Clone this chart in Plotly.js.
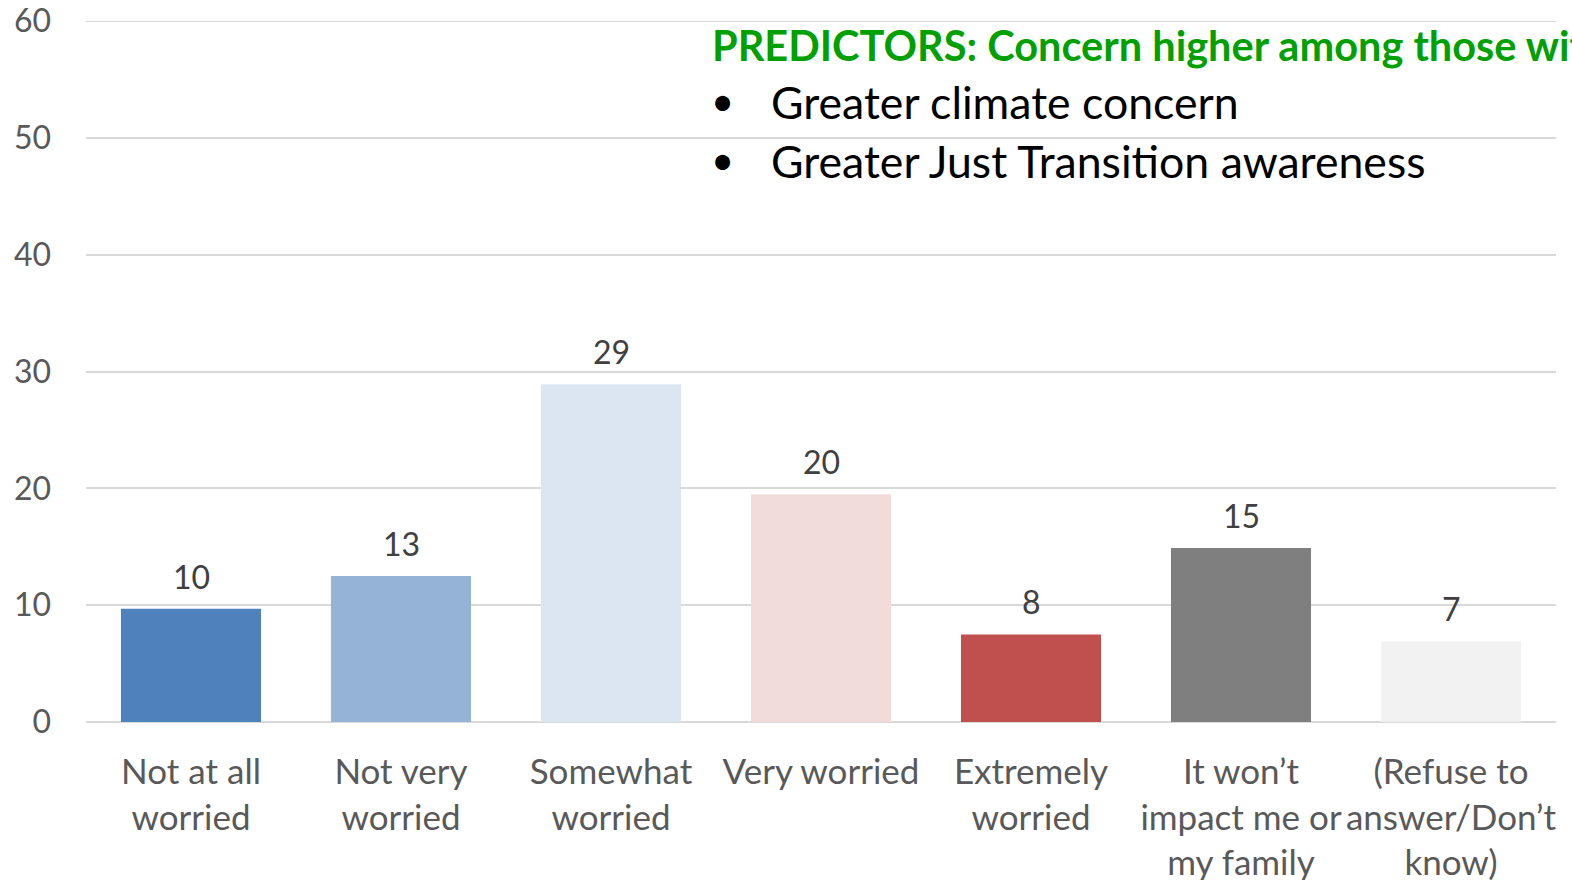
<!DOCTYPE html>
<html>
<head>
<meta charset="utf-8">
<script src="https://cdn.plot.ly/plotly-3.0.1.min.js"></script>
<style>html,body{margin:0;padding:0;background:#fff;}#chart{width:1572px;height:880px;}</style>
</head>
<body>
<div id="chart"></div>
<script>
const categories = ["Not at all<br>worried", "Not very<br>worried", "Somewhat<br>worried", "Very worried", "Extremely<br>worried", "It won’t<br>impact me or<br>my family", "(Refuse to<br>answer/Don’t<br>know)"];
const values = [9.7, 12.5, 28.9, 19.5, 7.5, 14.9, 6.9];
const barColors = ["#4F81BD", "#95B3D7", "#DCE6F2", "#F2DCDB", "#C0504D", "#7F7F7F", "#F2F2F2"];
const yTicks = [0, 10, 20, 30, 40, 50, 60];
const headline = "PREDICTORS: Concern higher among those with:";
const bullets = ["Greater climate concern", "Greater Just Transition awareness"];

const FONT = "Lato, 'Open Sans', sans-serif";

const trace = {
  type: "bar",
  x: categories,
  y: values,
  marker: {color: barColors},
  hoverinfo: "none"
};

const labelAnns = categories.map((c, i) => ({
  x: c, y: values[i], xref: "x", yref: "y",
  text: String(Math.round(values[i])),
  showarrow: false, yanchor: "bottom", yshift: 11,
  font: {family: FONT, size: 32, color: "#404040"}
}));

const textAnns = [
  {xref: "paper", yref: "paper", x: 0.4245, y: 1.0, xanchor: "left", yanchor: "middle", yshift: -24,
   text: "<b>" + headline + "</b>", showarrow: false,
   font: {family: FONT, size: 41.5, color: "#00A000"}},
  {xref: "paper", yref: "paper", x: 0.4235, y: 1.0, xanchor: "left", yanchor: "middle", yshift: -80,
   text: "•", showarrow: false, font: {family: FONT, size: 40, color: "#000000"}},
  {xref: "paper", yref: "paper", x: 0.4646, y: 1.0, xanchor: "left", yanchor: "middle", yshift: -80,
   text: bullets[0], showarrow: false, font: {family: FONT, size: 44.6, color: "#000000"}},
  {xref: "paper", yref: "paper", x: 0.4235, y: 1.0, xanchor: "left", yanchor: "middle", yshift: -139,
   text: "•", showarrow: false, font: {family: FONT, size: 40, color: "#000000"}},
  {xref: "paper", yref: "paper", x: 0.4646, y: 1.0, xanchor: "left", yanchor: "middle", yshift: -139,
   text: bullets[1], showarrow: false, font: {family: FONT, size: 44.6, color: "#000000"}}
];

const layout = {
  width: 1572, height: 880,
  margin: {l: 86, r: 16, t: 21, b: 158},
  paper_bgcolor: "#ffffff", plot_bgcolor: "#ffffff",
  showlegend: false,
  bargap: 0.333,
  font: {family: FONT},
  xaxis: {
    type: "category",
    tickfont: {family: FONT, size: 35, color: "#595959"},
    ticks: "", showline: false, showgrid: false, zeroline: false,
    ticklabelstandoff: 26,
    automargin: false
  },
  yaxis: {
    range: [0, 60], tickvals: yTicks, ticktext: yTicks.map(String),
    tickfont: {family: FONT, size: 32, color: "#595959"},
    showgrid: true, gridcolor: "#D9D9D9", gridwidth: 2,
    zeroline: true, zerolinecolor: "#D9D9D9", zerolinewidth: 2,
    showline: false, ticks: "", automargin: false,
    ticklabelstandoff: 34
  },
  shapes: [{type: "line", xref: "paper", yref: "y", x0: 0, x1: 1, y0: 60, y1: 60,
            line: {color: "#D9D9D9", width: 2}, layer: "below"}],
  annotations: labelAnns.concat(textAnns)
};

Plotly.newPlot("chart", [trace], layout, {displayModeBar: false, staticPlot: true});
</script>
</body>
</html>
